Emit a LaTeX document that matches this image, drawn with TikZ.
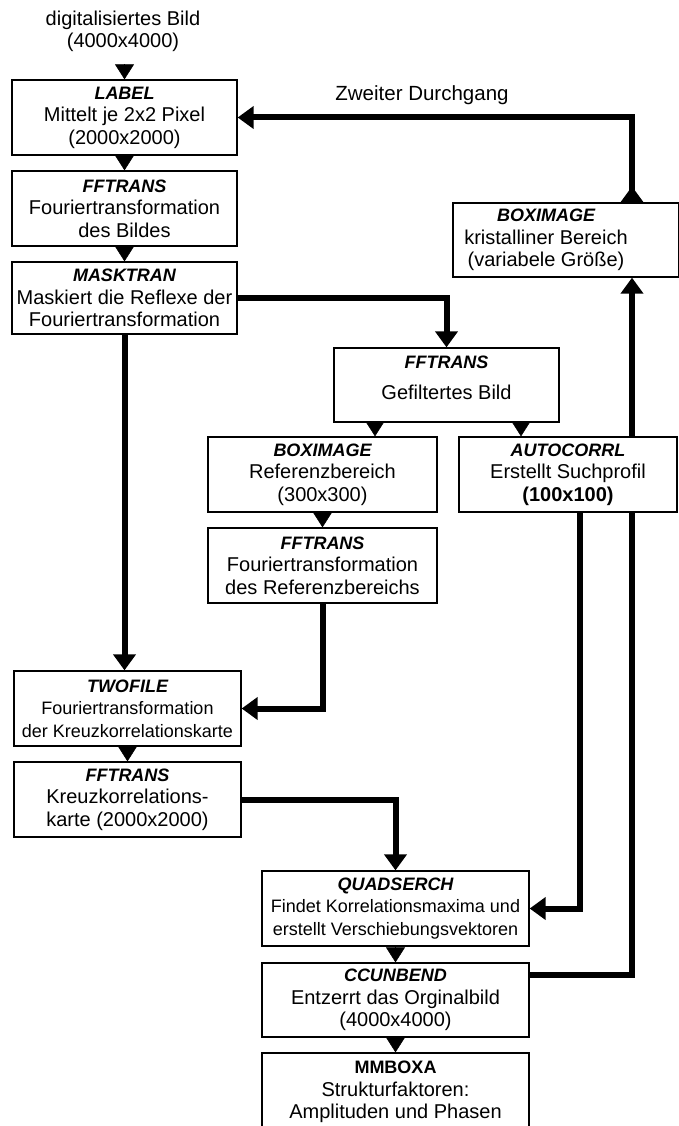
\documentclass[tikz,border=0pt]{standalone}
\usepackage{fontspec}
\setmainfont{Liberation Sans}
\usetikzlibrary{arrows.meta,backgrounds,calc}
\newcommand\ptitle[1]{{\fontsize{18}{22.5}\selectfont\bfseries\itshape #1}}
\begin{document}
\begin{tikzpicture}[x=1pt,y=-1pt,
  box/.style={draw=black, line width=1.3pt, fill=white, align=center, inner sep=0pt,
              font=\fontsize{20}{22.5}\selectfont},
  sz/.style 2 args={minimum width=#1pt, minimum height=#2pt},
  small/.style={font=\fontsize{18}{22.5}\selectfont},
  plain/.style={align=center, inner sep=0pt, font=\fontsize{20}{22.5}\selectfont},
  flow/.style={line width=6pt, -{Triangle[length=16pt,width=22pt]}},
  tri/.style={line width=0.5pt, -{Triangle[length=15pt,width=19pt]}}
]
\useasboundingbox (0,0) rectangle (678,1126);

% nodes
\node[plain] (src) at (123,31.5) {digitalisiertes Bild\\(4000x4000)};
\node[box, sz={225}{75}] (label) at (124.5,117.5) {\ptitle{LABEL}\\Mittelt je 2x2 Pixel\\(2000x2000)};
\node[box, sz={225}{75}] (fft1) at (124.5,208.5) {\ptitle{FFTRANS}\\Fouriertransformation\\des Bildes};
\node[box, sz={225}{72}] (mask) at (124.5,298) {\ptitle{MASKTRAN}\\Maskiert die Reflexe der\\Fouriertransformation};
\node[box, sz={225}{74}] (fft2) at (446.5,385) {};
\node[plain] (fft2t) at (446.5,378) {\ptitle{FFTRANS}\\[9pt]Gefiltertes Bild};
\node[box, sz={229}{75}] (boxref) at (322.5,474.5) {\ptitle{BOXIMAGE}\\Referenzbereich\\(300x300)};
\node[box, sz={218}{75}] (auto) at (568,474.5) {\ptitle{AUTOCORRL}\\Erstellt Suchprofil\\\textbf{(100x100)}};
\node[box, sz={229}{75}] (fftref) at (322.5,565.5) {\ptitle{FFTRANS}\\Fouriertransformation\\des Referenzbereichs};
\node[box, small, sz={227}{75}] (twofile) at (127.5,708.5) {\ptitle{TWOFILE}\\Fouriertransformation\\der Kreuzkorrelationskarte};
\node[box, sz={227}{75}] (fftk) at (127.5,799.5) {\ptitle{FFTRANS}\\Kreuzkorrelations-\\karte (2000x2000)};
\node[box, small, sz={267}{75}] (quad) at (395.5,908.5) {\ptitle{QUADSERCH}\\Findet Korrelationsmaxima und\\erstellt Verschiebungsvektoren};
\node[box, sz={267}{74}] (cc) at (395.5,1000) {\ptitle{CCUNBEND}\\Entzerrt das Orginalbild\\(4000x4000)};
\node[box, sz={267}{78}] (mm) at (395.5,1092) {{\fontsize{18}{22.5}\selectfont\bfseries MMBOXA}\\Strukturfaktoren:\\Amplituden und Phasen};
\node[box, sz={226}{74}] (boxk) at (566,240) {};
\node[plain] (boxkt) at (546,240) {\ptitle{BOXIMAGE}\\kristalliner Bereich\\(variabele Größe)};
\node[plain, font=\fontsize{20.5}{22.5}\selectfont] (zweit) at (422,95) {Zweiter Durchgang};

% helper coordinates
\coordinate (srcarrow) at ([yshift=13pt]label.north);
\coordinate (autoout) at ([xshift=12pt]auto.south);
\coordinate (ccout) at ([yshift=25pt]cc.east);
\coordinate (kin) at ([xshift=66pt]boxk.south);
\coordinate (kout) at ([xshift=66pt]boxk.north);
\coordinate (f2a) at ([xshift=-71.5pt]fft2.south);
\coordinate (f2b) at ([xshift=74.5pt]fft2.south);

\begin{pgfonlayer}{background}
\fill[white] (0,0) rectangle (678,1126);
\draw[flow] (mask.east) -| (fft2.north);
\draw[flow] (mask.south) -- (mask.south |- twofile.north);
\draw[flow] (fftref.south) |- (twofile.east);
\draw[flow] (fftk.east) -| (quad.north);
\draw[flow] (autoout) |- (quad.east);
\draw[flow] (ccout) -| (kin);
\draw[flow, {Triangle[reversed,length=16pt,width=22pt]}-{Triangle[length=16pt,width=22pt]}] (kout) |- (label.east);
\draw[tri] (srcarrow) -- (label.north);
\draw[tri] (label.south) -- (fft1.north);
\draw[tri] (fft1.south) -- (mask.north);
\draw[tri] (f2a) -- (f2a |- boxref.north);
\draw[tri] (f2b) -- (f2b |- auto.north);
\draw[tri] (boxref.south) -- (fftref.north);
\draw[tri] (twofile.south) -- (fftk.north);
\draw[tri] (quad.south) -- (cc.north);
\draw[tri] (cc.south) -- (mm.north);
\end{pgfonlayer}
\end{tikzpicture}
\end{document}
